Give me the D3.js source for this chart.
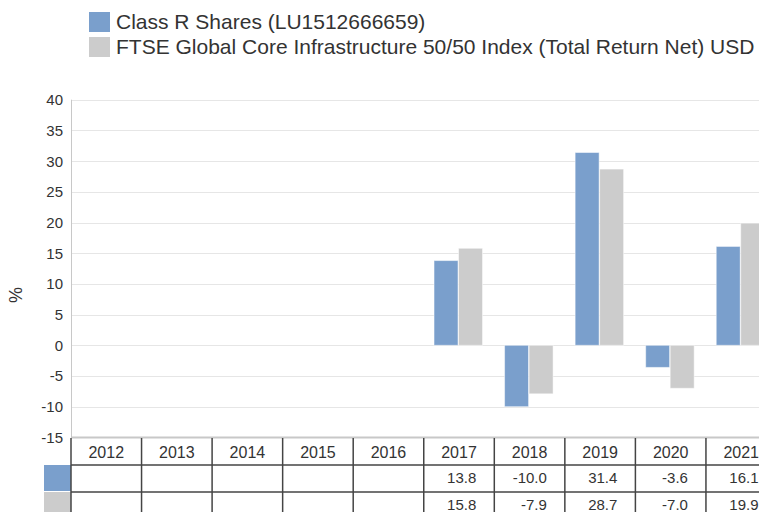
<!DOCTYPE html>
<html>
<head>
<meta charset="utf-8">
<script src="https://cdn.jsdelivr.net/npm/d3@7"></script>
<style>
  html, body { margin: 0; padding: 0; background: #fff; overflow: hidden; }
  text { font-family: "Liberation Sans", Arial, sans-serif; fill: #333; }
</style>
</head>
<body>
<svg id="chart" width="759" height="512"></svg>
<script>
const years = ["2012", "2013", "2014", "2015", "2016", "2017", "2018", "2019", "2020", "2021"];
const seriesNames = ["Class R Shares (LU1512666659)", "FTSE Global Core Infrastructure 50/50 Index (Total Return Net) USD"];
const classR = [null, null, null, null, null, 13.8, -10.0, 31.4, -3.6, 16.1];
const ftseIndex = [null, null, null, null, null, 15.8, -7.9, 28.7, -7.0, 19.9];
const yTicks = [-15, -10, -5, 0, 5, 10, 15, 20, 25, 30, 35, 40];
const colors = ["#7a9fcc", "#cccccc"];

const svg = d3.select("#chart");

const left = 71, colW = 70.55;
const x = d3.scaleBand()
  .domain(years)
  .range([left, left + colW * years.length]);

const y = d3.scaleLinear()
  .domain([-15, 40])
  .range([437.4, 99.7]);

const inner = d3.scaleBand()
  .domain([0, 1])
  .range([-25, 24]);

// gridlines
svg.append("g")
  .selectAll("line")
  .data(yTicks)
  .join("line")
    .attr("x1", left)
    .attr("x2", 800)
    .attr("y1", d => Math.round(y(d)) + 0.5)
    .attr("y2", d => Math.round(y(d)) + 0.5)
    .attr("stroke", d => d == -15 ? "#c8c8c8" : "#e6e6e6")
    .attr("stroke-width", d => d == -15 ? 2 : 1);

// y axis line
svg.append("line")
  .attr("x1", left + 0.5).attr("x2", left + 0.5)
  .attr("y1", y(40)).attr("y2", y(-15))
  .attr("stroke", "#c8c8c8");

// y tick labels
svg.append("g")
  .selectAll("text")
  .data(yTicks)
  .join("text")
    .attr("x", 63)
    .attr("y", d => y(d))
    .attr("dy", "0.36em")
    .attr("text-anchor", "end")
    .style("font-size", "15px")
    .text(d => d);

svg.append("text")
  .attr("transform", "translate(22,295) rotate(-90)")
  .attr("text-anchor", "middle")
  .style("font-size", "18px")
  .text("%");

// bars
const barData = [];
years.forEach((yr, i) => {
  [classR[i], ftseIndex[i]].forEach((v, s) => {
    if (v != null) barData.push({ year: yr, s: s, value: v });
  });
});

svg.append("g")
  .selectAll("rect")
  .data(barData)
  .join("rect")
    .attr("x", d => x(d.year) + x.bandwidth() / 2 + inner(d.s))
    .attr("width", inner.bandwidth() - 0.5)
    .attr("y", d => y(Math.max(0, d.value)))
    .attr("height", d => Math.abs(y(d.value) - y(0)))
    .attr("fill", d => colors[d.s])
    .attr("stroke", "rgba(255,255,255,0.5)")
    .attr("stroke-width", 1);

// legend
const legend = svg.append("g")
  .selectAll("g")
  .data(seriesNames)
  .join("g")
    .attr("transform", (d, i) => "translate(89," + (12 + i * 25) + ")");

legend.append("rect")
  .attr("width", 21)
  .attr("height", 20)
  .attr("fill", (d, i) => colors[i]);

legend.append("text")
  .attr("x", 27)
  .attr("y", 10)
  .attr("dy", "0.35em")
  .style("font-size", "21px")
  .text(d => d);

// data table
const rowTop = 438, rowH = 27;
const table = svg.append("g");

table.selectAll(".yr")
  .data(years)
  .join("text")
    .attr("class", "yr")
    .attr("x", d => x(d) + x.bandwidth() / 2)
    .attr("y", rowTop + rowH / 2 + 1)
    .attr("dy", "0.36em")
    .attr("text-anchor", "middle")
    .style("font-size", "16px")
    .text(d => d);

[classR, ftseIndex].forEach((vals, s) => {
  table.append("rect")
    .attr("x", 44)
    .attr("y", rowTop + rowH * (s + 1))
    .attr("width", left - 44)
    .attr("height", rowH - 1)
    .attr("fill", colors[s]);

  table.append("g")
    .selectAll("text")
    .data(years.map((yr, i) => ({ year: yr, value: vals[i] })).filter(d => d.value != null))
    .join("text")
      .attr("x", d => x(d.year) + x.bandwidth() - 18)
      .attr("y", rowTop + rowH * (s + 1) + rowH / 2 - 1)
      .attr("dy", "0.36em")
      .attr("text-anchor", "end")
      .style("font-size", "15px")
      .text(d => d.value.toFixed(1));
});

// table grid lines
table.selectAll(".vline")
  .data(years.concat(["end"]))
  .join("line")
    .attr("x1", (d, i) => left + i * x.step())
    .attr("x2", (d, i) => left + i * x.step())
    .attr("y1", rowTop)
    .attr("y2", 520)
    .attr("stroke", "#444")
    .attr("stroke-width", 1.5);

table.selectAll(".hline")
  .data([1, 2])
  .join("line")
    .attr("x1", left)
    .attr("x2", 800)
    .attr("y1", d => rowTop + rowH * d)
    .attr("y2", d => rowTop + rowH * d)
    .attr("stroke", "#444")
    .attr("stroke-width", 1.5);
</script>
</body>
</html>
